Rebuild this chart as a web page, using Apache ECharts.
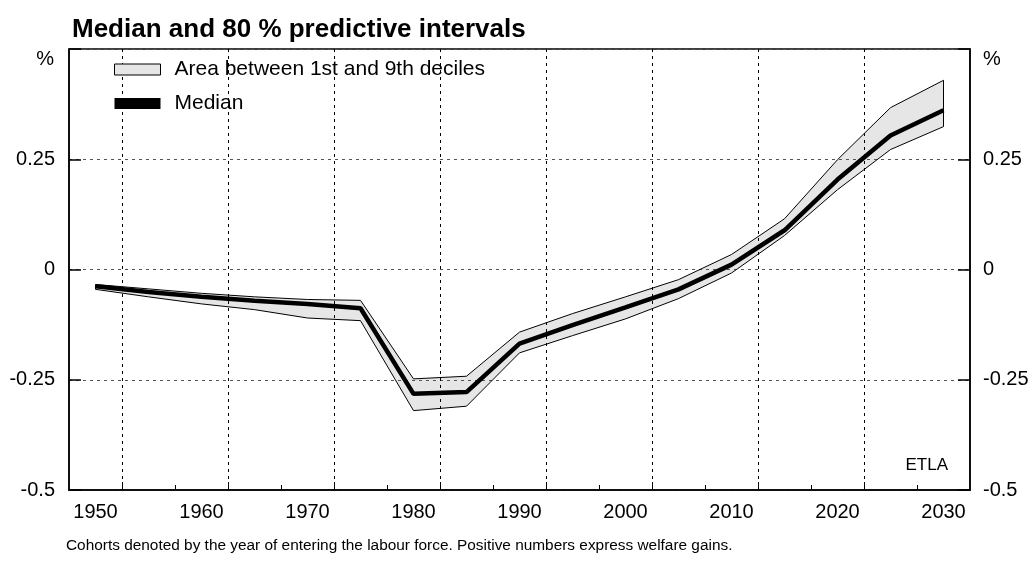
<!DOCTYPE html>
<html>
<head>
<meta charset="utf-8">
<script src="https://cdn.jsdelivr.net/npm/echarts@6/dist/echarts.min.js"></script>
<style>
html,body{margin:0;padding:0;background:#fff;}
#chart{width:1034px;height:572px;}
</style>
</head>
<body>
<div id="chart"></div>
<script>
// ---- data ----
var years  = [1950,1955,1960,1965,1970,1975,1980,1985,1990,1995,2000,2005,2010,2015,2020,2025,2030];
var median = [-0.038,-0.051,-0.062,-0.071,-0.078,-0.088,-0.282,-0.278,-0.168,-0.126,-0.086,-0.045,0.011,0.089,0.204,0.304,0.361];
var upper  = [-0.034,-0.044,-0.054,-0.062,-0.068,-0.070,-0.248,-0.242,-0.142,-0.100,-0.062,-0.023,0.034,0.115,0.249,0.367,0.429];
var lower  = [-0.045,-0.062,-0.078,-0.091,-0.110,-0.116,-0.320,-0.310,-0.189,-0.150,-0.112,-0.066,-0.008,0.077,0.181,0.272,0.324];
var xLabelValues = [1950,1960,1970,1980,1990,2000,2010,2020,2030];
var xMajorTicks  = [1952.5,1962.5,1972.5,1982.5,1992.5,2002.5,2012.5,2022.5];
var xMinorTicks  = [1957.5,1967.5,1977.5,1987.5,1997.5,2007.5,2017.5,2027.5];
var titleText = 'Median and 80 % predictive intervals';
var bandName = 'Area between 1st and 9th deciles';
var medianName = 'Median';
var unitText = '%';
var sourceText = 'ETLA';
var noteText = 'Cohorts denoted by the year of entering the labour force. Positive numbers express welfare gains.';

var FONT = '"Liberation Sans", Arial, Helvetica, sans-serif';
var chart = echarts.init(document.getElementById('chart'), null, {renderer:'canvas'});

var bandData  = years.map(function(y,i){return [y, lower[i], upper[i]];});
var lowerData = years.map(function(y,i){return [y, lower[i]];});
var upperData = years.map(function(y,i){return [y, upper[i]];});
var medData   = years.map(function(y,i){return [y, median[i]];});
var last = years.length - 1;

var yLabelFmt = function(v){ return Math.abs(v - 0.5) < 1e-9 ? '' : String(v); };

function renderBand(params, api){
  if (params.dataIndex !== 0) return null;
  var pts = [];
  for (var i = 0; i < bandData.length; i++) pts.push(api.coord([bandData[i][0], bandData[i][2]]));
  for (var j = bandData.length - 1; j >= 0; j--) pts.push(api.coord([bandData[j][0], bandData[j][1]]));
  return {type:'polygon', shape:{points:pts}, style:{fill:'#e6e6e6', stroke:null}};
}

var option = {
  backgroundColor:'#fff',
  animation:false,
  title:{text:titleText, left:67, top:12,
    textStyle:{fontFamily:FONT, fontSize:26, fontWeight:'bold', color:'#000'}},
  grid:{left:69, right:64, top:49, bottom:82, show:true, borderColor:'#000', borderWidth:1.5, backgroundColor:'transparent'},
  legend:{
    orient:'vertical', left:109, top:54, itemWidth:46, itemHeight:11, itemGap:13,
    textStyle:{fontFamily:FONT, fontSize:21, color:'#000', padding:[0,0,0,9]},
    data:[
      {name:bandName, icon:'rect', itemStyle:{color:'#e6e6e6', borderColor:'#000', borderWidth:1}},
      {name:medianName, icon:'rect', itemStyle:{color:'#000', borderWidth:0}}
    ],
    selectedMode:false
  },
  xAxis:[
    {type:'value', min:1947.5, max:2032.5, position:'bottom', z:3,
     axisLine:{show:true, onZero:false, lineStyle:{color:'#000', width:1.5}},
     axisTick:{show:true, inside:true, length:8, customValues:xMajorTicks, lineStyle:{color:'#000', width:1}},
     axisLabel:{show:true, customValues:xLabelValues, margin:12, fontFamily:FONT, fontSize:20, color:'#000',
       formatter:function(v){return String(v);}},
     splitLine:{show:true, lineStyle:{color:'#000', width:1, type:[3,4]}}
    },
    {type:'value', min:1947.5, max:2032.5, position:'bottom', z:3,
     axisLine:{show:false, onZero:false},
     axisTick:{show:true, inside:true, length:5, customValues:xMinorTicks, lineStyle:{color:'#000', width:1}},
     axisLabel:{show:false},
     splitLine:{show:false}
    }
  ],
  yAxis:[
    {type:'value', min:-0.5, max:0.5, interval:0.25, position:'left', z:3,
     axisLine:{show:true, onZero:false, lineStyle:{color:'#000', width:1.5}},
     axisTick:{show:true, inside:true, length:12, lineStyle:{color:'#000', width:1.5}},
     axisLabel:{margin:14, fontFamily:FONT, fontSize:20, color:'#000', formatter:yLabelFmt},
     splitLine:{show:true, lineStyle:{color:'#555', width:1, type:[3,4]}}
    },
    {type:'value', min:-0.5, max:0.5, interval:0.25, position:'right', z:3,
     axisLine:{show:true, onZero:false, lineStyle:{color:'#000', width:1.5}},
     axisTick:{show:true, inside:true, length:12, lineStyle:{color:'#000', width:1.5}},
     axisLabel:{margin:13, fontFamily:FONT, fontSize:20, color:'#000', formatter:yLabelFmt},
     splitLine:{show:false}
    }
  ],
  series:[
    {name:bandName, type:'custom', renderItem:renderBand, data:bandData,
     encode:{x:0, y:[1,2]}, z:1, silent:true, clip:true,
     itemStyle:{color:'#e6e6e6', borderColor:'#000', borderWidth:1}},
    {name:'lower', type:'line', data:lowerData, symbol:'none', z:4,
     lineStyle:{color:'#000', width:1}, silent:true,
     markLine:{silent:true, symbol:'none', label:{show:false},
       lineStyle:{color:'#000', width:1, type:'solid'},
       data:[[{coord:[years[last], lower[last]]},{coord:[years[last], upper[last]]}],
             [{coord:[years[0], lower[0]]},{coord:[years[0], upper[0]]}]]}
    },
    {name:'upper', type:'line', data:upperData, symbol:'none', z:4,
     lineStyle:{color:'#000', width:1}, silent:true},
    {name:medianName, type:'line', data:medData, symbol:'none', z:5,
     lineStyle:{color:'#000', width:4.5}, silent:true}
  ],
  graphic:[
    {type:'text', right:1034-54, top:49, style:{text:unitText, font:'20px '+FONT, fill:'#000'}},
    {type:'text', left:983, top:49, style:{text:unitText, font:'20px '+FONT, fill:'#000'}},
    {type:'text', right:1034-948, top:457, style:{text:sourceText, font:'17px '+FONT, fill:'#000'}},
    {type:'text', left:66, top:538, style:{text:noteText, font:'15.4px '+FONT, fill:'#000'}}
  ]
};
chart.setOption(option);
</script>
</body>
</html>
